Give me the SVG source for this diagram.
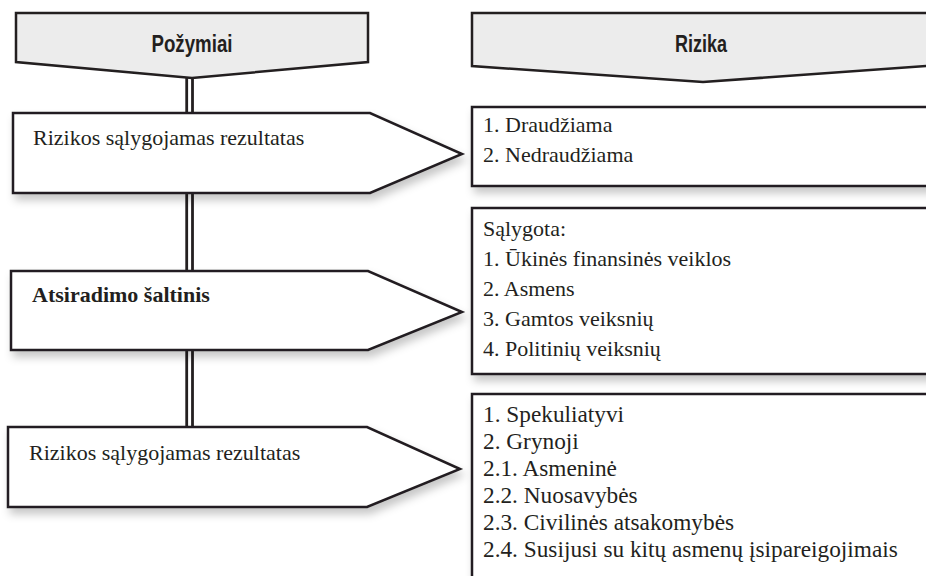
<svg xmlns="http://www.w3.org/2000/svg" width="926" height="576" viewBox="0 0 926 576">
<style>
.hdr{fill:#ececec;stroke:#231f20;stroke-width:2.5;stroke-linejoin:miter}
.shape{fill:#ffffff;stroke:#231f20;stroke-width:2.5;stroke-linejoin:miter}
.htxt{font-family:"Liberation Sans",Arial,sans-serif;font-weight:bold;font-size:24px;fill:#231f20;text-anchor:middle}
.txt{font-family:"Liberation Serif","Times New Roman",serif;font-size:22px;fill:#231f20}
.txt3{font-family:"Liberation Serif","Times New Roman",serif;font-size:23.3px;fill:#231f20}
.btxt{font-family:"Liberation Serif","Times New Roman",serif;font-size:22px;font-weight:bold;fill:#231f20}
.conn{stroke:#231f20;stroke-width:2.8;fill:none}
</style>
<defs>
<filter id="sh" x="-10%" y="-20%" width="130%" height="160%">
<feDropShadow dx="3" dy="6" stdDeviation="4" flood-color="#000" flood-opacity="0.22"/>
</filter>
</defs>
<rect width="926" height="576" fill="#ffffff"/>
<g id="connectors">
<line class="conn" x1="186.7" y1="76" x2="186.7" y2="114"/>
<line class="conn" x1="192.5" y1="76" x2="192.5" y2="114"/>
<line class="conn" x1="186.7" y1="192" x2="186.7" y2="272"/>
<line class="conn" x1="192.5" y1="192" x2="192.5" y2="272"/>
<line class="conn" x1="186.7" y1="349" x2="186.7" y2="428"/>
<line class="conn" x1="192.5" y1="349" x2="192.5" y2="428"/>
</g>
<g id="header-pozymiai">
<path class="hdr" d="M16,13 H368 V62 L192,78 L16,62 Z"/>
<text class="htxt" x="192" y="52" textLength="81" lengthAdjust="spacingAndGlyphs">Požymiai</text>
</g>
<g id="header-rizika">
<path class="hdr" d="M472,13 H940 V65 L703,82 L472,66 Z"/>
<text class="htxt" x="701" y="52" textLength="52" lengthAdjust="spacingAndGlyphs">Rizika</text>
</g>
<g id="arrow-1">
<path class="shape" filter="url(#sh)" d="M13,113 H370 L462,154 L370,193 H13 Z"/>
<text class="txt" x="33" y="145">Rizikos sąlygojamas rezultatas</text>
</g>
<g id="arrow-2">
<path class="shape" filter="url(#sh)" d="M11,271 H368 L462,312 L368,350 H11 Z"/>
<text class="btxt" x="32" y="302">Atsiradimo šaltinis</text>
</g>
<g id="arrow-3">
<path class="shape" filter="url(#sh)" d="M8,427 H367 L460,469 L367,507 H8 Z"/>
<text class="txt" x="29" y="460">Rizikos sąlygojamas rezultatas</text>
</g>
<g id="box-1">
<rect class="shape" filter="url(#sh)" x="472" y="107" width="470" height="79"/>
<text class="txt" x="483" y="132">1. Draudžiama</text>
<text class="txt" x="483" y="162">2. Nedraudžiama</text>
</g>
<g id="box-2">
<rect class="shape" filter="url(#sh)" x="472" y="208" width="470" height="166"/>
<text class="txt" x="483" y="236">Sąlygota:</text>
<text class="txt" x="483" y="266">1. Ūkinės finansinės veiklos</text>
<text class="txt" x="483" y="296">2. Asmens</text>
<text class="txt" x="483" y="326">3. Gamtos veiksnių</text>
<text class="txt" x="483" y="356">4. Politinių veiksnių</text>
</g>
<g id="box-3">
<rect class="shape" filter="url(#sh)" x="472" y="394" width="470" height="200"/>
<text class="txt3" x="483" y="422">1. Spekuliatyvi</text>
<text class="txt3" x="483" y="449">2. Grynoji</text>
<text class="txt3" x="483" y="476">2.1. Asmeninė</text>
<text class="txt3" x="483" y="503">2.2. Nuosavybės</text>
<text class="txt3" x="483" y="530">2.3. Civilinės atsakomybės</text>
<text class="txt3" x="483" y="557">2.4. Susijusi su kitų asmenų įsipareigojimais</text>
</g>
</svg>
